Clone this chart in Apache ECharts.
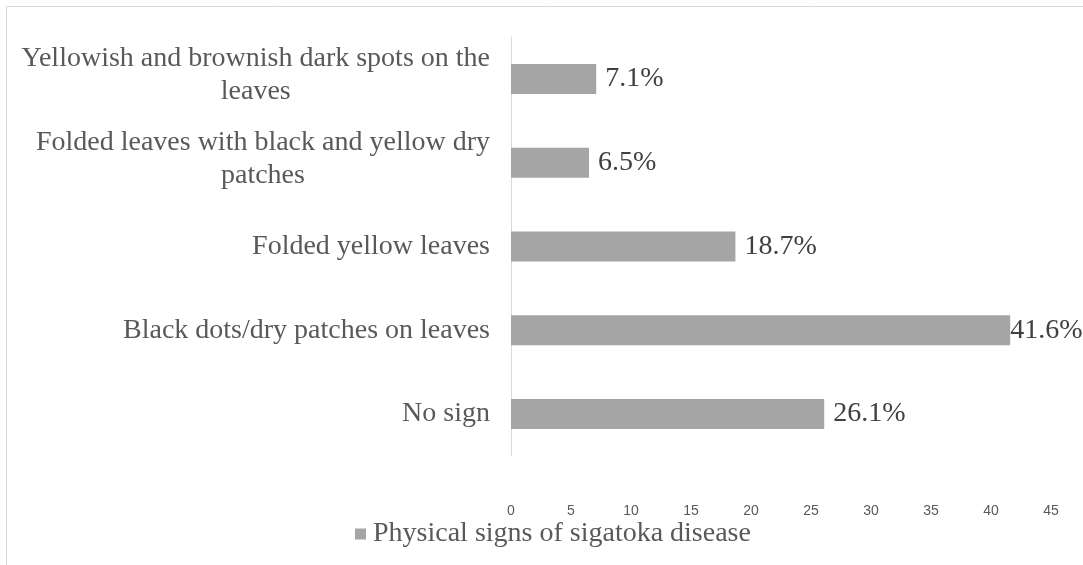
<!DOCTYPE html>
<html><head><meta charset="utf-8">
<script src="https://cdn.jsdelivr.net/npm/echarts@6/dist/echarts.min.js"></script>
<style>html,body{margin:0;padding:0;background:#fff}#c{width:1083px;height:565px}</style>
</head><body><div id="c"></div>
<script>
const categories = [
  'No sign',
  'Black dots/dry patches on leaves',
  'Folded yellow leaves',
  'Folded leaves with black and yellow dry\npatches',
  'Yellowish and brownish dark spots on the\nleaves'
];
const values = [26.1, 41.6, 18.7, 6.5, 7.1];
const seriesName = 'Physical signs of sigatoka disease';
const xTicks = { min: 0, max: 45, interval: 5 };

const serif = '"Liberation Serif", "Times New Roman", serif';
const chart = echarts.init(document.getElementById('c'));
chart.setOption({
  animation: false,
  backgroundColor: '#fff',
  graphic: [{
    type: 'rect', silent: true, z: -1,
    shape: { x: 6.5, y: 6.5, width: 1200, height: 700 },
    style: { fill: 'none', stroke: '#d9d9d9', lineWidth: 1 }
  }],
  grid: { left: 511, top: 37, width: 540, bottom: 109, containLabel: false },
  legend: {
    bottom: 12, left: 350,
    itemWidth: 11, itemHeight: 11, itemGap: 10,
    icon: 'rect',
    textStyle: { fontFamily: serif, fontSize: 28, color: '#595959', padding: [0, 0, 0, 2] },
    data: [seriesName]
  },
  xAxis: {
    type: 'value', min: xTicks.min, max: xTicks.max, interval: xTicks.interval,
    axisLine: { show: false }, axisTick: { show: false }, splitLine: { show: false },
    axisLabel: { margin: 48, fontFamily: '"Liberation Sans", Arial, sans-serif', fontSize: 14, color: '#595959' }
  },
  yAxis: {
    type: 'category', data: categories,
    axisLine: { show: true, lineStyle: { color: '#d9d9d9', width: 1 } },
    axisTick: { show: false },
    axisLabel: {
      margin: 21, fontFamily: serif, fontSize: 28, color: '#595959', lineHeight: 33,
      formatter: v => {
        const lines = v.split('\n');
        let s = lines.map(t => '{c|' + t + '}').join('\n');
        if (lines.length > 1) s += '\n{s| }';
        return s;
      },
      rich: {
        c: { align: 'center', fontFamily: serif, fontSize: 28, color: '#595959', lineHeight: 33 },
        s: { fontSize: 4, lineHeight: 8 }
      }
    }
  },
  series: [{
    name: seriesName, type: 'bar', barWidth: 30,
    itemStyle: { color: '#a5a5a5' },
    label: {
      show: true, position: 'right', distance: 9,
      fontFamily: serif, fontSize: 28, color: '#404040',
      formatter: p => p.value.toFixed(1) + '%'
    },
    data: values.map((v, i) => (v === Math.max(...values)) ? { value: v, label: { distance: 0 } } : v)
  }]
});
</script></body></html>
